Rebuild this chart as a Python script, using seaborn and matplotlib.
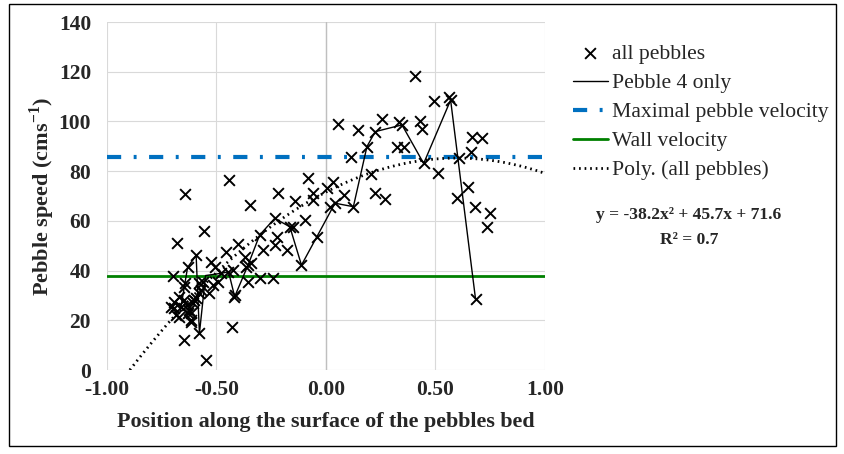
import numpy as np
import pandas as pd
import matplotlib
matplotlib.use("Agg")
import matplotlib.pyplot as plt
import matplotlib.patches as patches
import seaborn as sns

# Data
all_x = [-0.708, -0.693, -0.685, -0.670, -0.662, -0.647, -0.636, -0.624, -0.609, -0.616,
         -0.593, -0.578, -0.647, -0.670, -0.632, -0.693, -0.616, -0.602,
         -0.642, -0.555, -0.680, -0.593, -0.632, -0.697, -0.524, -0.642, -0.578, -0.647,
         -0.578, -0.550, -0.616, -0.455, -0.400, -0.448, -0.478, -0.517, -0.420, -0.569,
         -0.562, -0.505, -0.532, -0.494, -0.425, -0.372, -0.364, -0.341, -0.427, -0.443,
         -0.345, -0.219, -0.081, -0.142, -0.058, -0.058, 0.003, -0.234, -0.165, -0.150,
         -0.096, -0.303, -0.226, -0.234, -0.287, -0.180, -0.043, -0.112, -0.356, -0.303,
         -0.242, -0.356, -0.417, 0.057, 0.148, 0.255, 0.332, 0.347, 0.431, 0.439,
         0.225, 0.187, 0.324, 0.358, 0.113, 0.446, 0.205, 0.034, 0.225, 0.271,
         0.080, 0.041, 0.125, 0.018, 0.408, 0.495, 0.561, 0.569, 0.668, 0.714,
         0.661, 0.607, 0.511, 0.648, 0.596, 0.679, 0.749, 0.734, 0.683]
all_y = [25.5, 27.5, 22.1, 29.5, 25.5, 28.2, 26.1, 24.1, 26.8, 22.8,
         28.8, 30.9, 33.5, 21.4, 22.8, 24.8, 20.1, 28.0,
         70.7, 55.9, 51.2, 46.1, 41.3, 37.8, 43.6, 35.1, 34.9, 12.1,
         14.9, 4.0, 19.4, 47.6, 50.6, 39.5, 38.9, 34.2, 29.5, 32.2,
         35.5, 41.6, 31.0, 35.5, 40.2, 45.6, 41.6, 42.9, 17.2, 76.4,
         66.2, 71.1, 77.1, 68.1, 71.1, 68.4, 73.1, 61.0, 57.6, 57.6,
         60.3, 54.3, 53.6, 50.3, 48.3, 48.3, 53.4, 42.2, 42.2, 36.9,
         36.9, 35.5, 30.2, 99.0, 96.5, 100.8, 99.9, 98.6, 100.3, 96.8,
         95.9, 89.9, 89.6, 89.9, 85.8, 83.1, 78.8, 75.8, 71.3, 68.6,
         70.4, 67.1, 65.7, 65.7, 118.3, 108.3, 110.0, 108.6, 93.6, 93.2,
         87.8, 85.1, 79.1, 73.5, 69.0, 65.7, 63.0, 57.7, 28.4]

p4_x = [-0.662, -0.632, -0.593, -0.578, -0.550, -0.478, -0.445, -0.417, -0.356, -0.303,
        -0.234, -0.165, -0.112, -0.043, 0.041, 0.125, 0.187, 0.225, 0.347, 0.446,
        0.569, 0.683]
p4_y = [25.5, 41.3, 46.1, 14.7, 38.0, 38.9, 39.5, 29.5, 42.2, 54.3,
        61.0, 57.6, 42.2, 53.4, 67.1, 65.7, 89.9, 95.9, 98.6, 83.1,
        108.6, 28.4]

max_velocity = 85.6
wall_velocity = 38.0
poly_coef = [-38.2, 45.7, 71.6]

pebbles = pd.DataFrame({'pos': all_x, 'speed': all_y})
pebble4 = pd.DataFrame({'pos': p4_x, 'speed': p4_y})

sns.set_style("whitegrid", {'grid.color': '#d9d9d9'})
plt.rcParams['font.family'] = ['Liberation Serif', 'DejaVu Serif']
plt.rcParams['mathtext.fontset'] = 'custom'
plt.rcParams['mathtext.rm'] = 'Liberation Serif'
plt.rcParams['mathtext.bf'] = 'Liberation Serif:bold'

fig = plt.figure(figsize=(8.45, 4.54), dpi=100)
ax = fig.add_axes([107/845, 1-370/454, 438/845, 348/454])

sns.scatterplot(x='pos', y='speed', data=pebbles, marker='x', color='black',
                s=60, linewidth=1.4, ax=ax, label='all pebbles', zorder=4)
sns.lineplot(x='pos', y='speed', data=pebble4, sort=False, estimator=None,
             color='black', linewidth=1, ax=ax, label='Pebble 4 only', zorder=3)
ax.axhline(max_velocity, color='#0070C0', linewidth=3,
           linestyle=(0, (3.4, 3.0, 0.7, 3.0)), label='Maximal pebble velocity', zorder=2)
ax.axhline(wall_velocity, color='#008000', linewidth=2, label='Wall velocity', zorder=2)

# trendline from the displayed equation
roots = np.roots(poly_coef)
x0 = roots[(roots > -1) & (roots < 0)][0].real
xs = np.linspace(x0, 1, 200)
ax.plot(xs, np.polyval(poly_coef, xs), color='black', linewidth=2,
        linestyle=(0, (0.6, 1.4)), label='Poly. (all pebbles)', zorder=3)

ax.set_xlim(-1, 1)
ax.set_ylim(0, 140)
ax.set_xticks([-1, -0.5, 0, 0.5, 1])
ax.set_xticklabels(['%.2f' % v for v in [-1, -0.5, 0, 0.5, 1]])
ax.set_yticks(range(0, 141, 20))
ax.tick_params(labelsize=15.5)
ax.tick_params(axis='x', pad=4)
ax.tick_params(axis='y', pad=8)
for lab in ax.get_xticklabels() + ax.get_yticklabels():
    lab.set_fontweight('bold')
for s in ax.spines.values():
    s.set_visible(False)
ax.axvline(0, color='#bfbfbf', linewidth=1, zorder=1)

ax.set_xlabel('Position along the surface of the pebbles bed', fontsize=15.8,
              fontweight='bold', labelpad=8)
ax.set_ylabel(r'Pebble speed (cms$^{\mathbf{-1}}$)', fontsize=16,
              fontweight='bold', labelpad=1)

ax.legend_.remove()
h, l = ax.get_legend_handles_labels()
fig.legend(h, l, loc='upper left', bbox_to_anchor=(573/845, 1-44/454), frameon=False,
           fontsize=15.6, handlelength=1.6, handletextpad=0.2, labelspacing=0.41,
           borderaxespad=0, borderpad=0)

fig.text(689/845, 1-215/454, 'y = -38.2x² + 45.7x + 71.6', ha='center', va='center',
         fontsize=12.6, fontweight='bold')
fig.text(689/845, 1-240/454, 'R² = 0.7', ha='center', va='center',
         fontsize=12.6, fontweight='bold')

fig.patches.append(patches.Rectangle((9/845, 1-446/454), 827/845, 442/454,
                                     transform=fig.transFigure, fill=False,
                                     edgecolor='black', linewidth=1))

fig.savefig('out.png', dpi=100)
